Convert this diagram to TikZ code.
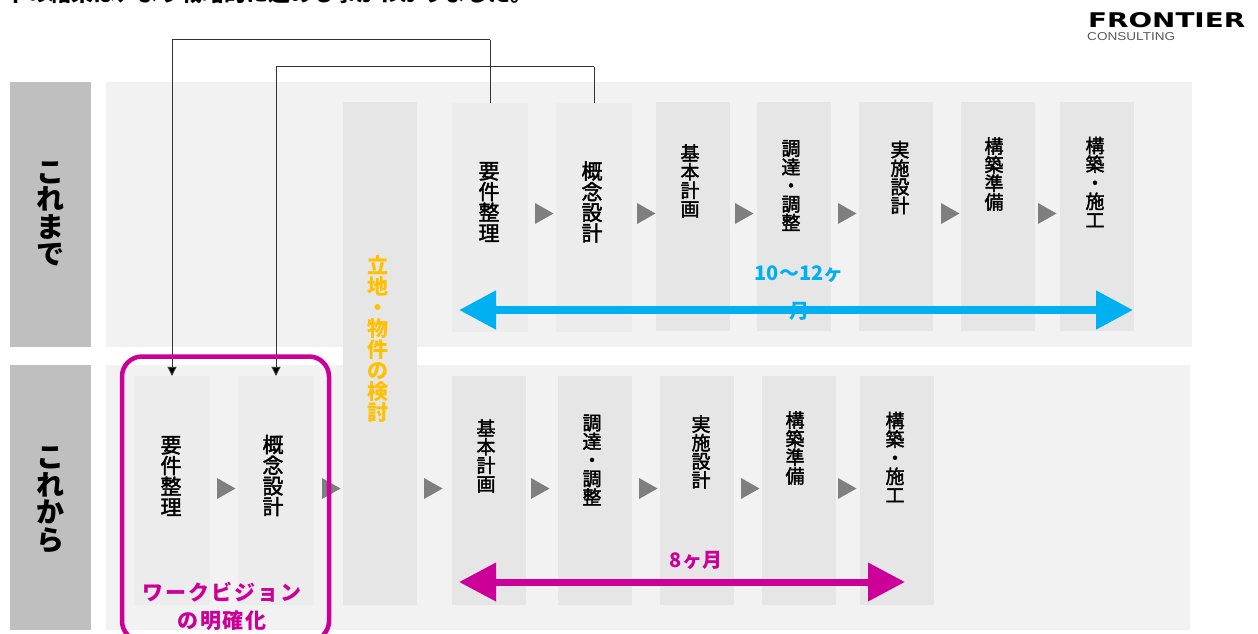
\documentclass[tikz,border=0pt]{standalone}
\usepackage{fontspec}
\usetikzlibrary{arrows.meta}
\setmainfont{Noto Sans CJK JP}
\newfontfamily\jpmed[FakeBold=2]{Noto Sans CJK JP}
\definecolor{sidegray}{HTML}{BFBFBF}
\definecolor{rowgray}{HTML}{F2F2F2}
\definecolor{boxgray}{HTML}{E6E6E6}
\definecolor{boxlight}{HTML}{ECECEC}
\definecolor{tri}{HTML}{7F7F7F}
\definecolor{cblue}{HTML}{00B0F0}
\definecolor{cpink}{HTML}{CC0099}
\definecolor{camber}{HTML}{FFC000}
\newcommand{\plate}[6]{% name x1 y1 x2 y2 fill
  \path[fill=#6] (#2,#3) rectangle (#4,#5);
  \node[inner sep=0pt,minimum width=#4pt-#2pt,minimum height=#5pt-#3pt] (#1) at ({(#2+#4)/2},{(#3+#5)/2}) {};}
\newcommand{\gtri}[2]{\fill[tri] (#1,#2) -- ++(18.5,10.5) -- ++(-18.5,10.5) -- cycle;}
\tikzset{
  x=1pt,y=-1pt,
  vlab/.style={inner sep=0pt,align=center,font=\jpmed\fontsize{19}{18.6}\selectfont,text=black},
  vbig/.style={inner sep=0pt,align=center,font=\jpmed\fontsize{21}{20.7}\selectfont,text=black},
  vside/.style={inner sep=0pt,align=center,font=\bfseries\fontsize{28}{27.5}\selectfont,text=black},
  vamber/.style={inner sep=0pt,align=center,font=\bfseries\fontsize{21}{21}\selectfont,text=camber},
  link/.style={draw=black!80,line width=0.9pt},
  linkend/.style={-{Triangle[length=9pt,width=9pt,fill=black]},draw=black!80,line width=0.9pt},
  span/.style={{Triangle[length=37pt,width=37pt]}-{Triangle[length=37pt,width=37pt]},line width=#1},
  span/.default=8pt,
}
\begin{document}
\begin{tikzpicture}
\useasboundingbox (0,0) rectangle (1258,633);
\clip (0,0) rectangle (1258,633);
\fill[white] (0,0) rectangle (1258,633);
% side + rows
\plate{sideA}{10}{82}{91}{347}{sidegray}
\plate{sideB}{10}{365}{91}{630}{sidegray}
\plate{rowA}{106}{82}{1192}{347}{rowgray}
\plate{rowB}{106}{365}{1190}{630}{rowgray}
% central
\plate{site}{343}{102}{417}{605}{boxgray}
% upper boxes
\plate{ua}{452}{103}{528}{332}{boxlight}
\plate{ub}{556}{103}{632}{332}{boxlight}
\plate{uc}{656}{102}{730}{331}{boxgray}
\plate{ud}{757}{102}{831}{331}{boxgray}
\plate{ue}{859}{102}{933}{331}{boxgray}
\plate{uf}{961}{102}{1035}{331}{boxgray}
\plate{ug}{1060}{102}{1134}{331}{boxgray}
% lower boxes
\plate{la}{134}{376}{210}{605}{boxlight}
\plate{lb}{238}{376}{314}{605}{boxlight}
\plate{lc}{452}{376}{526}{605}{boxgray}
\plate{ld}{558}{376}{632}{605}{boxgray}
\plate{le}{660}{376}{734}{605}{boxgray}
\plate{lf}{762}{376}{836}{605}{boxgray}
\plate{lg}{860}{376}{934}{605}{boxgray}
% connectors
\draw[link] (ua.north) -- ++(0,-63) coordinate (ja);
\draw[linkend] (ja) -| (la.north);
\draw[link] (ub.north) -- ++(0,-36) coordinate (jb);
\draw[linkend] (jb) -| (lb.north);
% step triangles
\gtri{535}{203}\gtri{637}{203}\gtri{735}{203}\gtri{838}{203}\gtri{941}{203}\gtri{1038}{203}
\gtri{217}{478}\gtri{322}{478}\gtri{424}{478}\gtri{531}{478}\gtri{639}{478}\gtri{741}{478}\gtri{838}{478}
% span arrows
\coordinate (bl) at (459,310); \coordinate (br) at (1133,310);
\draw[span=8pt,draw=cblue,fill=cblue] (bl) -- (br);
\coordinate (pl) at (459,582); \coordinate (pr) at (905,582);
\draw[span=7pt,draw=cpink,fill=cpink] (pl) -- (pr);
% pink frame
\node[draw=cpink,line width=4.5pt,rounded corners=20pt,inner sep=0pt,minimum width=207pt,minimum height=284.5pt] (frame) at (225.5,498.75) {};
% side labels
\node[vside] (tA) at (50,214) {こ\\れ\\ま\\で};
\node[vside] (tB) at (50,500) {こ\\れ\\か\\ら};
% upper text
\node[vbig] (t1) at (489,202) {要\\件\\整\\理};
\node[vbig] (t2) at (592,202) {概\\念\\設\\計};
\node[vlab] (t3) at (690,181) {基\\本\\計\\画};
\node[vlab] (t4) at (791,185.5) {調\\達\\・\\調\\整};
\node[vlab] (t5) at (900,177.5) {実\\施\\設\\計};
\node[vlab] (t6) at (994,174) {構\\築\\準\\備};
\node[vlab] (t7) at (1095,182) {構\\築\\・\\施\\工};
% lower text
\node[vbig] (t8) at (171,476) {要\\件\\整\\理};
\node[vbig] (t9) at (273,475.5) {概\\念\\設\\計};
\node[vlab] (t10) at (486,456) {基\\本\\計\\画};
\node[vlab] (t11) at (592,460) {調\\達\\・\\調\\整};
\node[vlab] (t12) at (701,452) {実\\施\\設\\計};
\node[vlab] (t13) at (795,448) {構\\築\\準\\備};
\node[vlab] (t14) at (895,457) {構\\築\\・\\施\\工};
\node[vamber] (t15) at (378,338.5) {立\\地\\・\\物\\件\\の\\検\\討};
% coloured labels
\node[inner sep=0pt,align=center,text=cblue,font=\bfseries\fontsize{20}{38}\selectfont] (dBlue) at (799,293) {10〜12ヶ\\月};
\node[inner sep=0pt,text=cpink,font=\bfseries\fontsize{20}{22}\selectfont] (dPink) at (696,560) {\addfontfeature{LetterSpace=3}8ヶ月};
\node[inner sep=0pt,align=center,text=cpink,font=\bfseries\fontsize{21}{28}\selectfont] (vision) at (222,606) {\addfontfeature{LetterSpace=9}ワークビジョン\\\addfontfeature{LetterSpace=9}の明確化};
% top clipped sentence
\node[inner sep=0pt,anchor=base west,font=\bfseries\fontsize{22}{22}\selectfont] (head) at (5,1) {下の結果は、より戦略的に進める事がわかりました。};
% logo
\node[inner sep=0pt,anchor=south west] (logoA) at (1088,28) {\resizebox{157pt}{15pt}{\fontspec{DejaVu Sans}\bfseries FRONTIER}};
\node[inner sep=0pt,anchor=south west,text=black!65] (logoB) at (1087,41) {\resizebox{88pt}{8pt}{\fontspec{Liberation Sans}CONSULTING}};
\end{tikzpicture}
\end{document}
